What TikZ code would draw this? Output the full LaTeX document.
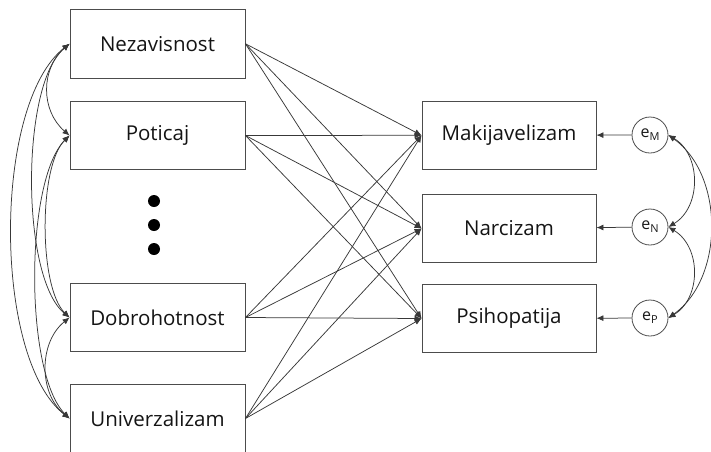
\documentclass[tikz,border=0pt]{standalone}
\usepackage{fontspec}
\setmainfont{Open Sans}
\usetikzlibrary{arrows.meta}
\begin{document}
\begin{tikzpicture}[x=1pt,y=-1pt,
  box/.style={draw=black!70, line width=0.9pt, minimum width=175pt, minimum height=68.5pt, inner sep=0pt, font=\fontsize{20.5}{24}\selectfont, text=black!92},
  err/.style={circle, draw=black!70, line width=0.8pt, minimum size=36pt, inner sep=0pt, font=\fontsize{16}{18}\selectfont, text=black!90},
  arr/.style={draw=black!78, line width=0.75pt, -{Latex[length=7pt,width=6pt]}},
  cov/.style={draw=black!78, line width=0.75pt, {Latex[length=7pt,width=6pt]}-{Latex[length=7pt,width=6pt]}},
  bigdot/.style={circle, fill=black, minimum size=12pt, inner sep=0pt}
]
\clip (0,0) rectangle (711,451);
% left boxes
\node[box] (nez) at (157.5,43.75) {Nezavisnost};
\node[box] (pot) at (157.5,135.5) {Poticaj};
\node[box] (dob) at (157.5,317.5) {Dobrohotnost};
\node[box] (uni) at (157.5,418.5) {Univerzalizam};
% dots
\node[bigdot] (d1) at (154,201) {};
\node[bigdot] (d2) at (154,225) {};
\node[bigdot] (d3) at (154,249) {};
% right boxes
\node[box, minimum width=174pt] (mak) at (509,135.3) {Makijavelizam};
\node[box, minimum width=174pt] (nar) at (509,228.5) {Narcizam};
\node[box, minimum width=174pt] (psi) at (509,318.5) {Psihopatija};
% error terms
\node[err] (eM) at (650,135) {e{\fontsize{11}{11}\selectfont\raisebox{-3pt}{M}}};
\node[err] (eN) at (650,227) {e{\fontsize{11}{11}\selectfont\raisebox{-3pt}{N}}};
\node[err] (eP) at (650,318) {e{\fontsize{11}{11}\selectfont\raisebox{-3pt}{P}}};
% regression paths
\foreach \s in {nez,pot,dob,uni}{
  \foreach \t in {mak,nar,psi}{
    \draw[arr] (\s.east) -- (\t.west);
  }
}
\draw[arr] (eM) -- (mak);
\draw[arr] (eN) -- (nar);
\draw[arr] (eP) -- (psi);
% covariances left
\draw[cov] (nez.west) .. controls +(-29,25) and +(-29,-25) .. (pot.west);
\draw[cov] (nez.west) .. controls +(-49,40) and +(-49,-40) .. (dob.west);
\draw[cov] (nez.west) .. controls +(-77,60) and +(-77,-60) .. (uni.west);
\draw[cov] (pot.west) .. controls +(-31,30) and +(-31,-30) .. (dob.west);
\draw[cov] (pot.west) .. controls +(-45,45) and +(-45,-45) .. (uni.west);
\draw[cov] (dob.west) .. controls +(-31,25) and +(-31,-25) .. (uni.west);
% covariances right
\draw[cov] (eM.east) .. controls +(33,20) and +(33,-20) .. (eN.east);
\draw[cov] (eN.east) .. controls +(33,20) and +(33,-20) .. (eP.east);
\draw[cov] (eM.east) .. controls +(56,40) and +(56,-40) .. (eP.east);
\end{tikzpicture}
\end{document}
